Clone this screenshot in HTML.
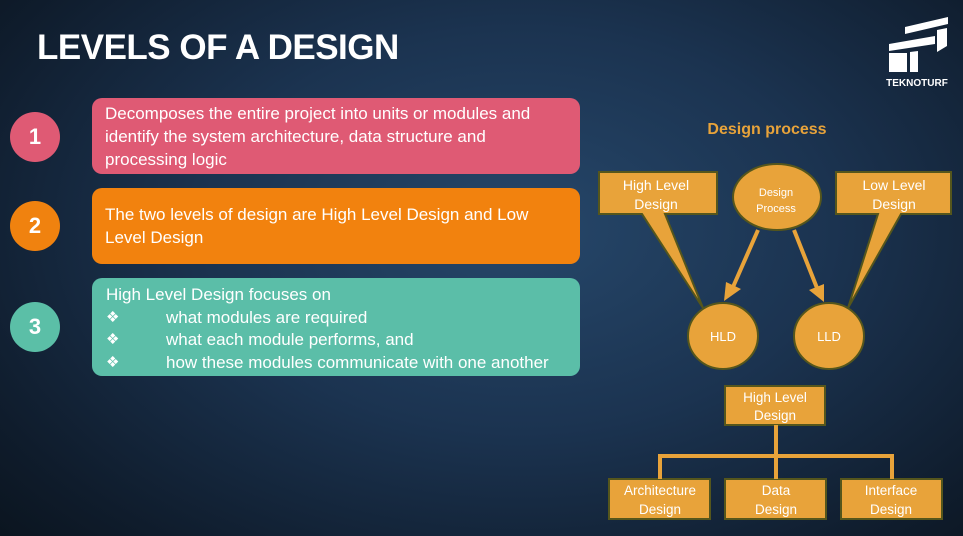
<!DOCTYPE html>
<html><head><meta charset="utf-8"><style>
body{margin:0;width:963px;height:536px;overflow:hidden;font-family:"Liberation Sans",sans-serif;}
#bg{position:absolute;left:0;top:0;width:963px;height:536px;background:radial-gradient(ellipse 700px 450px at 520px 230px,#26476a 0%,#1b3350 45%,#0f1c2c 85%,#0b1520 100%);}
.t{position:absolute;color:#fff;white-space:nowrap;font-size:17px;}
.circ{position:absolute;width:50px;height:50px;border-radius:50%;color:#fff;font-weight:bold;font-size:22px;text-align:center;line-height:50px;}
.box{position:absolute;left:92px;width:488px;border-radius:10px;}
</style></head><body>
<div id="bg"></div>
<div class="t" style="left:37px;top:28px;font-size:35px;font-weight:bold;letter-spacing:-0.5px;">LEVELS OF A DESIGN</div>

<div class="circ" style="left:10px;top:112px;background:#df5a74;">1</div>
<div class="circ" style="left:10px;top:201px;background:#f0820f;">2</div>
<div class="circ" style="left:10px;top:302px;background:#5bbfa7;">3</div>

<div class="box" style="top:98px;height:76px;background:#df5a74;"></div>
<div class="box" style="top:188px;height:76px;background:#f2820e;"></div>
<div class="box" style="top:278px;height:98px;background:#5bbea8;"></div>

<div class="t" style="left:105px;top:104px;">Decomposes the entire project into units or modules and</div>
<div class="t" style="left:105px;top:127px;">identify the system architecture, data structure and</div>
<div class="t" style="left:105px;top:150px;">processing logic</div>
<div class="t" style="left:105px;top:205px;">The two levels of design are High Level Design and Low</div>
<div class="t" style="left:105px;top:228px;">Level Design</div>
<div class="t" style="left:106px;top:285px;">High Level Design focuses on</div>
<div class="t" style="left:106px;top:308px;font-size:15px;">❖</div><div class="t" style="left:166px;top:308px;">what modules are required</div>
<div class="t" style="left:106px;top:330px;font-size:15px;">❖</div><div class="t" style="left:166px;top:330px;">what each module performs, and</div>
<div class="t" style="left:106px;top:353px;font-size:15px;">❖</div><div class="t" style="left:166px;top:353px;">how these modules communicate with one another</div>

<svg style="position:absolute;left:0;top:0" width="963" height="536">
<g fill="#fff">
<polygon points="905,27 948,17 948,24 905,34"/>
<polygon points="889,44 935,36 935,44 889,51"/>
<rect x="889" y="53" width="18" height="19"/>
<polygon points="910,52 918,51 918,72 910,72"/>
<polygon points="937,30 947,28 947,46 937,52"/>
</g>
<text x="917" y="86" fill="#fff" font-size="10" font-weight="bold" text-anchor="middle" font-family="Liberation Sans">TEKNOTURF</text>

<text x="767" y="134" fill="#e8a33a" font-size="16" font-weight="bold" text-anchor="middle" font-family="Liberation Sans">Design process</text>

<g fill="#e8a33a" stroke="#55561c" stroke-width="2">
<polygon points="599,172 717,172 717,214 665,214 703,308 642,214 599,214"/>
<polygon points="836,172 951,172 951,214 901,214 848,308 878,214 836,214"/>
<ellipse cx="777" cy="197" rx="44" ry="33"/>
<ellipse cx="723" cy="336" rx="35" ry="33"/>
<ellipse cx="829" cy="336" rx="35" ry="33"/>
<rect x="725" y="386" width="100" height="39"/>
<rect x="609" y="479" width="101" height="40"/>
<rect x="725" y="479" width="101" height="40"/>
<rect x="841" y="479" width="101" height="40"/>
</g>
<g stroke="#e8a33a" stroke-width="4" fill="none">
<line x1="758" y1="230" x2="733" y2="287"/>
<line x1="794" y1="230" x2="817" y2="288"/>
<polyline points="660,479 660,456 892,456 892,479"/>
<line x1="776" y1="425" x2="776" y2="479"/>
</g>
<g fill="#e8a33a">
<polygon points="724,301 726,282 741,289"/>
<polygon points="824,302 809,290 824,284"/>
</g>
<g fill="#fff" font-family="Liberation Sans" text-anchor="middle">
<text x="656" y="190" font-size="14">High Level</text><text x="656" y="209" font-size="14">Design</text>
<text x="894" y="190" font-size="14">Low Level</text><text x="894" y="209" font-size="14">Design</text>
<text x="776" y="196" font-size="11">Design</text><text x="776" y="212" font-size="11">Process</text>
<text x="723" y="341" font-size="13">HLD</text>
<text x="829" y="341" font-size="13">LLD</text>
<text x="775" y="402" font-size="13.5">High Level</text><text x="775" y="420" font-size="13.5">Design</text>
<text x="660" y="495" font-size="13.5">Architecture</text><text x="660" y="514" font-size="13.5">Design</text>
<text x="776" y="495" font-size="13.5">Data</text><text x="776" y="514" font-size="13.5">Design</text>
<text x="891" y="495" font-size="13.5">Interface</text><text x="891" y="514" font-size="13.5">Design</text>
</g>
</svg>
</body></html>
